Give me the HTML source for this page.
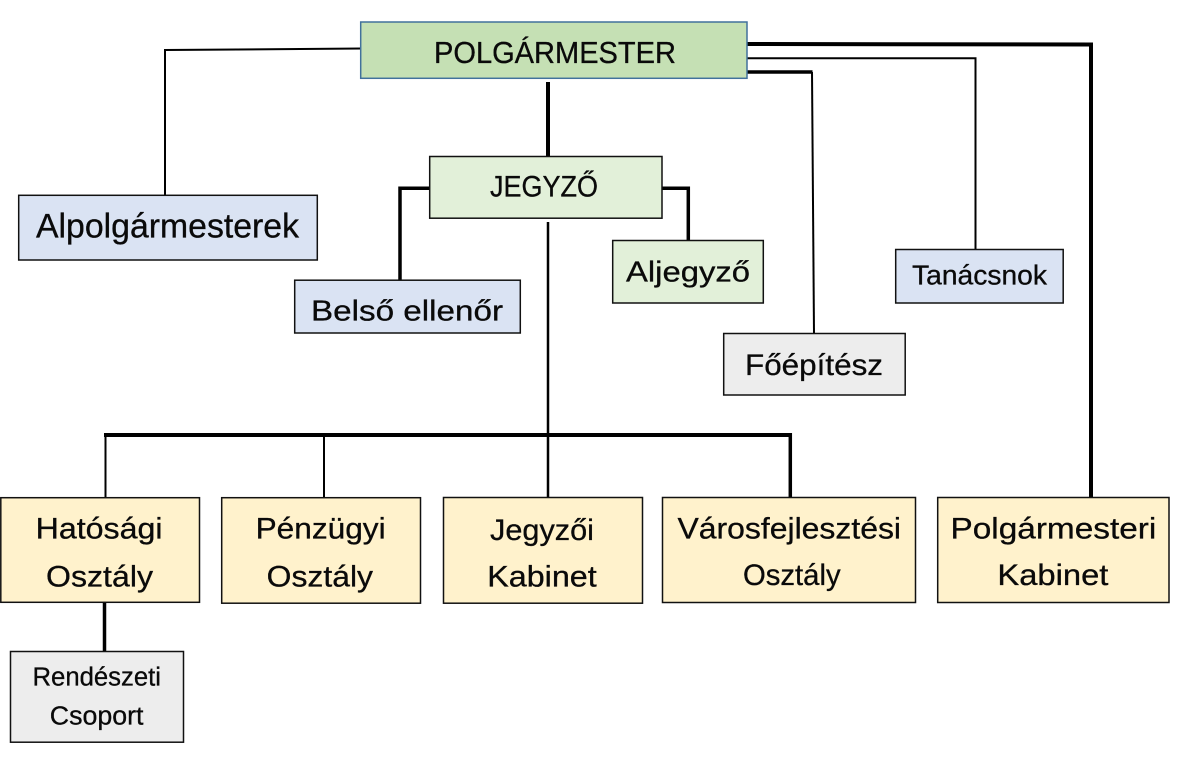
<!DOCTYPE html>
<html>
<head>
<meta charset="utf-8">
<style>
html,body{margin:0;padding:0;background:#fff;}
svg{display:block;}
text{font-family:"Liberation Sans",Arial,sans-serif;fill:#0a0a0a;stroke:#0a0a0a;stroke-width:0.3;}
</style>
</head>
<body>
<svg width="1184" height="761" viewBox="0 0 1184 761" xmlns="http://www.w3.org/2000/svg">
<rect width="1184" height="761" fill="#fff"/>
<g fill="none" stroke="#000" stroke-linejoin="miter" stroke-linecap="butt">
  <polyline points="362,48.5 165,50 165,196" stroke-width="2"/>
  <line x1="548" y1="82" x2="548" y2="157" stroke-width="4"/>
  <polyline points="746,44 1091,44.5 1091,498" stroke-width="4"/>
  <polyline points="746,58.3 975.5,58.3 975.5,250" stroke-width="2"/>
  <polyline points="746,72 812.5,72" stroke-width="3.5"/>
  <polyline points="812,72 814,334" stroke-width="2"/>
  <polyline points="430,188.3 400,188.3 400,281" stroke-width="3.5"/>
  <polyline points="662,188.3 688.3,188.3 688.3,241" stroke-width="3.5"/>
  <line x1="548" y1="222" x2="548" y2="498" stroke-width="2.5"/>
  <line x1="104" y1="435" x2="792" y2="435" stroke-width="4"/>
  <line x1="105.5" y1="435" x2="105.5" y2="498" stroke-width="2"/>
  <line x1="324" y1="435" x2="324" y2="498" stroke-width="2"/>
  <line x1="790.3" y1="433" x2="790.3" y2="498" stroke-width="3.5"/>
  <line x1="104.5" y1="602" x2="104.5" y2="652" stroke-width="3.5"/>
</g>

<g stroke-width="1.5">
  <rect x="360.7" y="22" width="386.3" height="56.3" fill="#c5e0b4" stroke="#41719c"/>
  <rect x="18.7" y="195.3" width="298.6" height="64.7" fill="#dae3f3" stroke="#111"/>
  <rect x="429.7" y="156.5" width="232.3" height="61.7" fill="#e2f0d9" stroke="#111"/>
  <rect x="294.7" y="280.2" width="225.6" height="52.8" fill="#dae3f3" stroke="#111"/>
  <rect x="612.7" y="240.5" width="150.6" height="62.5" fill="#e2f0d9" stroke="#111"/>
  <rect x="895.7" y="249.5" width="167.5" height="53.5" fill="#dae3f3" stroke="#111"/>
  <rect x="723.7" y="333.5" width="181.5" height="61.5" fill="#ededed" stroke="#111"/>
  <rect x="0.8" y="497.7" width="198.7" height="104.6" fill="#fff2cc" stroke="#111"/>
  <rect x="221.7" y="497.7" width="198.8" height="105.5" fill="#fff2cc" stroke="#111"/>
  <rect x="443.5" y="497.5" width="199" height="105.7" fill="#fff2cc" stroke="#111"/>
  <rect x="662.5" y="497.5" width="253" height="105" fill="#fff2cc" stroke="#111"/>
  <rect x="937.7" y="497.5" width="231.3" height="105" fill="#fff2cc" stroke="#111"/>
  <rect x="10.5" y="651.5" width="173" height="90.7" fill="#ededed" stroke="#111"/>
</g>

<g>
  <text x="434" y="63" font-size="31" textLength="242" lengthAdjust="spacingAndGlyphs">POLGÁRMESTER</text>
  <text x="490" y="196.5" font-size="30" textLength="108" lengthAdjust="spacingAndGlyphs">JEGYZŐ</text>
  <text x="36" y="237.3" font-size="34" textLength="263" lengthAdjust="spacingAndGlyphs">Alpolgármesterek</text>
  <text x="311" y="320.7" font-size="29" textLength="192" lengthAdjust="spacingAndGlyphs">Belső ellenőr</text>
  <text x="626" y="281.7" font-size="29" textLength="124" lengthAdjust="spacingAndGlyphs">Aljegyző</text>
  <text x="912" y="284.7" font-size="27.5" textLength="135" lengthAdjust="spacingAndGlyphs">Tanácsnok</text>
  <text x="745" y="375" font-size="30" textLength="138" lengthAdjust="spacingAndGlyphs">Főépítész</text>

  <text x="35.6" y="538.3" font-size="29.5" textLength="127" lengthAdjust="spacingAndGlyphs">Hatósági</text>
  <text x="46" y="586.7" font-size="29.5" textLength="107" lengthAdjust="spacingAndGlyphs">Osztály</text>

  <text x="255.6" y="538.3" font-size="29.5" textLength="130" lengthAdjust="spacingAndGlyphs">Pénzügyi</text>
  <text x="266.7" y="586.7" font-size="29.5" textLength="106.3" lengthAdjust="spacingAndGlyphs">Osztály</text>

  <text x="490" y="540" font-size="29.5" textLength="104" lengthAdjust="spacingAndGlyphs">Jegyzői</text>
  <text x="487.3" y="586.7" font-size="29.5" textLength="109.4" lengthAdjust="spacingAndGlyphs">Kabinet</text>

  <text x="677.5" y="538.5" font-size="29.5" textLength="223.5" lengthAdjust="spacingAndGlyphs">Városfejlesztési</text>
  <text x="743" y="585" font-size="29.5" textLength="97.6" lengthAdjust="spacingAndGlyphs">Osztály</text>

  <text x="950.5" y="538.5" font-size="29.5" textLength="205.8" lengthAdjust="spacingAndGlyphs">Polgármesteri</text>
  <text x="997.4" y="585" font-size="29.5" textLength="111" lengthAdjust="spacingAndGlyphs">Kabinet</text>

  <text x="32.5" y="685.7" font-size="25.5" textLength="128.5" lengthAdjust="spacingAndGlyphs">Rendészeti</text>
  <text x="49.8" y="724.3" font-size="25.5" textLength="93.7" lengthAdjust="spacingAndGlyphs">Csoport</text>
</g>
</svg>
</body>
</html>
